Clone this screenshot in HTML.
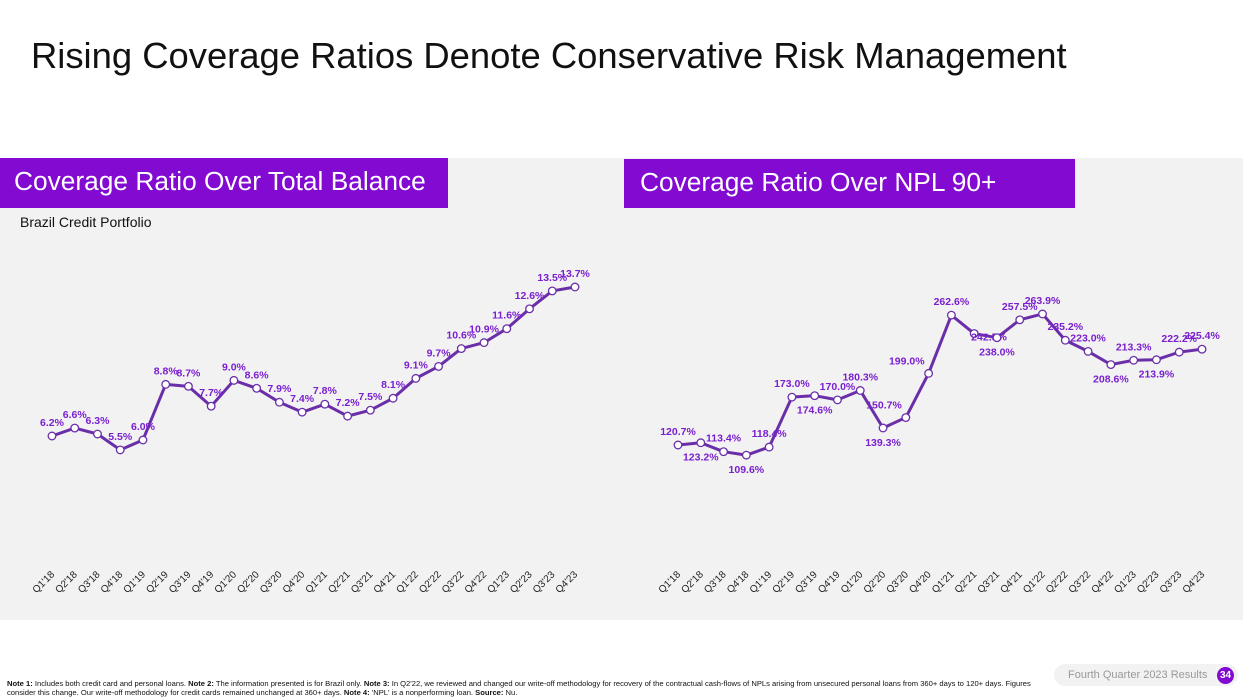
<!DOCTYPE html>
<html><head><meta charset="utf-8"><style>
body{margin:0;width:1243px;height:699px;background:#fff;font-family:"Liberation Sans",sans-serif;position:relative;overflow:hidden}
.title{position:absolute;left:31px;top:35px;font-size:36.4px;color:#111}
.panel{position:absolute;left:0;top:158px;width:1243px;height:462px;background:#f2f2f2}
.hdr{position:absolute;background:#820ad1;color:#fff;font-size:26.3px;padding-left:14px;box-sizing:border-box;line-height:46px}
.sub{position:absolute;left:20px;top:214px;font-size:14px;color:#111}
.note{position:absolute;left:7px;top:680px;font-size:7.6px;line-height:8.6px;color:#111;width:1030px}
.pill{position:absolute;left:1054px;top:664px;width:184px;height:22px;border-radius:11px;background:#f2f2f2;color:#999;font-size:11px;line-height:22px;padding-left:14px;box-sizing:border-box}
.pg{position:absolute;right:4px;top:3px;width:17px;height:17px;border-radius:50%;background:#820ad1;color:#fff;font-size:10px;font-weight:bold;text-align:center;line-height:17px}
</style></head><body>
<div class="title">Rising Coverage Ratios Denote Conservative Risk Management</div>
<div class="panel"></div>
<div class="hdr" style="left:0;top:158px;width:448px;height:50px">Coverage Ratio Over Total Balance</div>
<div class="hdr" style="left:624px;top:159px;width:451px;height:49px;padding-left:16px">Coverage Ratio Over NPL 90+</div>
<div class="sub">Brazil Credit Portfolio</div>
<svg id="svg" width="1243" height="699" style="position:absolute;left:0;top:0"></svg>
<div class="note"><b>Note 1:</b> Includes both credit card and personal loans. <b>Note 2:</b> The information presented is for Brazil only. <b>Note 3:</b> In Q2'22, we reviewed and changed our write-off methodology for recovery of the contractual cash-flows of NPLs arising from unsecured personal loans from 360+ days to 120+ days. Figures consider this change. Our write-off methodology for credit cards remained unchanged at 360+ days. <b>Note 4:</b> 'NPL' is a nonperforming loan. <b>Source:</b> Nu.</div>
<div class="pill">Fourth Quarter 2023 Results<div class="pg">34</div></div>
<script>
const quarters=["Q1'18","Q2'18","Q3'18","Q4'18","Q1'19","Q2'19","Q3'19","Q4'19","Q1'20","Q2'20","Q3'20","Q4'20","Q1'21","Q2'21","Q3'21","Q4'21","Q1'22","Q2'22","Q3'22","Q4'22","Q1'23","Q2'23","Q3'23","Q4'23"];
const totalBalance=[6.2,6.6,6.3,5.5,6.0,8.8,8.7,7.7,9.0,8.6,7.9,7.4,7.8,7.2,7.5,8.1,9.1,9.7,10.6,10.9,11.6,12.6,13.5,13.7];
const npl90=[120.7,123.2,113.4,109.6,118.4,173.0,174.6,170.0,180.3,139.3,150.7,199.0,262.6,242.5,238.0,257.5,263.9,235.2,223.0,208.6,213.3,213.9,222.2,225.4];
const nplLabelSide=["a","b","a","b","a","a","b","a","a","b","l","l","a","r","b","a","a","a","a","b","a","b","a","a"];
const NS="http://www.w3.org/2000/svg";
const svg=document.getElementById('svg');
function mk(t,a){const e=document.createElementNS(NS,t);for(const k in a)e.setAttribute(k,a[k]);svg.appendChild(e);return e;}
function draw(vals,x0,x1,yRef,vRef,scale,sides,name){
  const xs=i=>x0+(x1-x0)*i/(vals.length-1);
  const ys=v=>yRef-(v-vRef)*scale;
  const line=mk('polyline',{points:vals.map((v,i)=>xs(i)+','+ys(v)).join(' '),fill:'none',stroke:'#6a2fa8','stroke-width':3,'stroke-linejoin':'round'});
  
  
  vals.forEach((v,i)=>{
    const c=mk('circle',{cx:xs(i),cy:ys(v),r:3.8,fill:'#fff',stroke:'#6a2fa8','stroke-width':1.3});
    
    
    const s=sides?sides[i]:'a';
    let dx=0,dy=-10,anc='middle';
    if(s==='b')dy=18; if(s==='l'){dx=-4;dy=-9;anc='end';} if(s==='r'){dx=-3;dy=7;anc='start';}
    const t=mk('text',{x:xs(i)+dx,y:ys(v)+dy,'text-anchor':anc,'font-size':10.5,'font-weight':'bold',fill:'#7a1fd0'});
    t.textContent=v.toFixed(1)+'%';
    
    
    const q=mk('text',{x:xs(i)+3,y:575,'text-anchor':'end','font-size':10,fill:'#222',transform:'rotate(-45 '+(xs(i)+3)+' 575)'});
    q.textContent=quarters[i];
    
    
  });
}
draw(totalBalance,52,575,436,6.2,19.87,null,'total-balance');
draw(npl90,678,1202,445,120.7,0.915,nplLabelSide,'npl90');
</script>
</body></html>
